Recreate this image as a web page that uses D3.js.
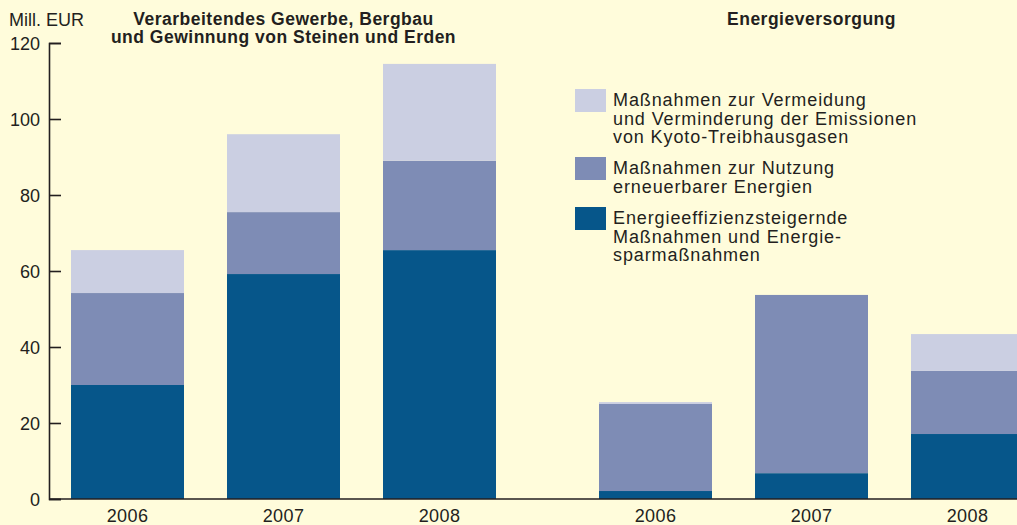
<!DOCTYPE html>
<html lang="de">
<head>
  <meta charset="UTF-8">
  <title>Umweltschutzinvestitionen</title>
  <script src="https://d3js.org/d3.v7.min.js"></script>
  <style>
    body {
      margin: 0;
      background: #fffcdb;
    }
    svg {
      display: block;
      font-family: "Liberation Sans", Arial, sans-serif;
      fill: #231f20;
    }
    .axis text {
      font-size: 18px;
      fill: #231f20;
    }
    .title {
      font-size: 17.5px;
      font-weight: bold;
      letter-spacing: 0.5px;
    }
    .legend text {
      font-size: 18px;
      letter-spacing: 0.9px;
    }
  </style>
</head>
<body>
  <svg width="1017" height="525"></svg>

  <script>
    // Data (Mill. EUR)
    const groups = ["Verarbeitendes Gewerbe", "Energieversorgung"];
    const years = ["2006", "2007", "2008"];
    const effizienz = [30, 59.2, 65.5, 2.1, 6.8, 17.1];
    const erneuerbar = [24.2, 16.3, 23.5, 22.9, 46.9, 16.6];
    const kyoto = [11.3, 20.5, 25.5, 0.5, 0, 9.7];
    const yTicks = [0, 20, 40, 60, 80, 100, 120];

    const seriesNames = [
      ["Energieeffizienzsteigernde", "Maßnahmen und Energie-", "sparmaßnahmen"],
      ["Maßnahmen zur Nutzung", "erneuerbarer Energien"],
      ["Maßnahmen zur Vermeidung", "und Verminderung der Emissionen", "von Kyoto-Treibhausgasen"]
    ];
    const colors = ["#06568a", "#7e8cb5", "#cbcfe2"];

    const rows = [];
    groups.forEach((g, gi) => {
      years.forEach((yr, yi) => {
        const i = gi * 3 + yi;
        rows.push({ group: g, year: yr, eff: effizienz[i], ern: erneuerbar[i], kyo: kyoto[i] });
      });
    });

    const svg = d3.select("svg");

    const y = d3.scaleLinear().domain([0, 120]).range([499, 43]);

    const outer = d3.scaleBand().domain(groups).range([71, 1024])
      .paddingInner(1 - 425 / 528).paddingOuter(0);
    const inner = d3.scaleBand().domain(years).range([0, outer.bandwidth()])
      .paddingInner(1 - 113 / 156).paddingOuter(0);

    const stack = d3.stack().keys(["eff", "ern", "kyo"]);
    const layers = stack(rows);

    svg.append("g")
      .selectAll("g")
      .data(layers)
      .join("g")
      .attr("fill", (d, i) => colors[i])
      .selectAll("rect")
      .data(d => d)
      .join("rect")
      .attr("x", d => outer(d.data.group) + inner(d.data.year))
      .attr("width", inner.bandwidth())
      .attr("y", d => y(d[1]))
      .attr("height", d => y(d[0]) - y(d[1]));

    // y axis
    const yAxis = svg.append("g")
      .attr("class", "axis")
      .attr("transform", "translate(49,0)")
      .call(d3.axisLeft(y).tickValues(yTicks).tickSize(-12).tickPadding(9));
    yAxis.select(".domain").attr("stroke", "#231f20").attr("stroke-width", 1.6);
    yAxis.selectAll(".tick line").attr("stroke", "#231f20").attr("stroke-width", 1.6);
    yAxis.selectAll(".tick text").attr("dy", "0.36em");

    // x axis: baseline and year labels
    svg.append("line")
      .attr("x1", 49).attr("x2", 1017)
      .attr("y1", y(0)).attr("y2", y(0))
      .attr("stroke", "#231f20").attr("stroke-width", 1.6);

    svg.append("g")
      .attr("class", "axis")
      .selectAll("text")
      .data(rows)
      .join("text")
      .attr("x", d => outer(d.group) + inner(d.year) + inner.bandwidth() / 2)
      .attr("y", 522)
      .attr("text-anchor", "middle")
      .style("letter-spacing", "0.4px")
      .text(d => d.year);

    svg.append("text")
      .attr("class", "axis")
      .attr("x", 9).attr("y", 26)
      .style("font-size", "18px")
      .text("Mill. EUR");

    // group titles
    const t1 = svg.append("text")
      .attr("class", "title")
      .attr("text-anchor", "middle");
    t1.append("tspan")
      .attr("x", outer(groups[0]) + outer.bandwidth() / 2).attr("y", 25)
      .text("Verarbeitendes Gewerbe, Bergbau");
    t1.append("tspan")
      .attr("x", outer(groups[0]) + outer.bandwidth() / 2).attr("y", 43)
      .text("und Gewinnung von Steinen und Erden");

    svg.append("text")
      .attr("class", "title")
      .attr("text-anchor", "middle")
      .attr("x", outer(groups[1]) + outer.bandwidth() / 2).attr("y", 25)
      .text("Energieversorgung");

    // legend (top to bottom: kyoto, erneuerbar, effizienz)
    const legendTops = [207, 157, 89];
    const legend = svg.append("g").attr("class", "legend");
    seriesNames.forEach((lines, i) => {
      const g = legend.append("g").attr("transform", `translate(575,${legendTops[i]})`);
      g.append("rect").attr("width", 31).attr("height", 23).attr("fill", colors[i]);
      const t = g.append("text");
      lines.forEach((l, j) => {
        t.append("tspan").attr("x", 38).attr("y", 17 + j * 18.6).text(l);
      });
    });
  </script>
</body>
</html>
